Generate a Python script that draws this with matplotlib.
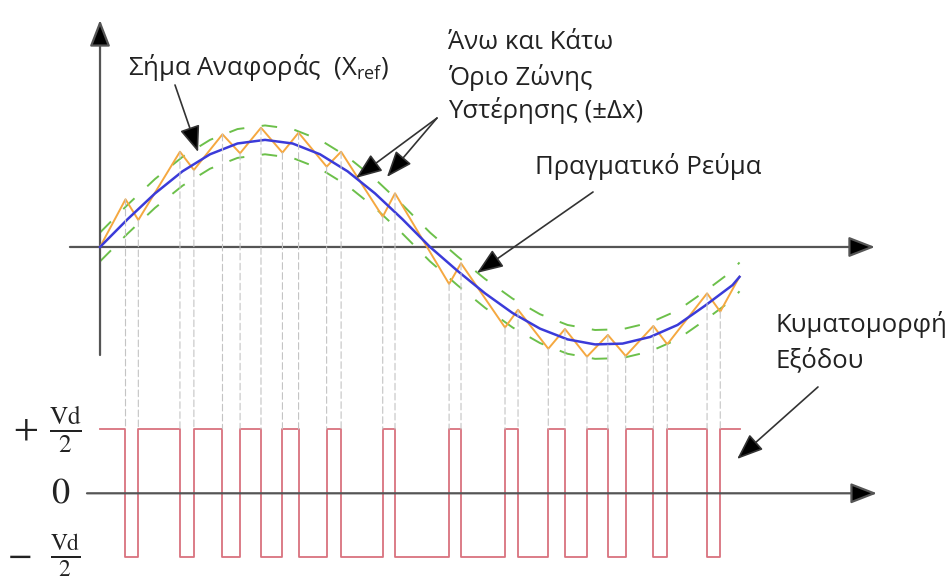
import numpy as np
import matplotlib
matplotlib.use("Agg")
import matplotlib.pyplot as plt
from matplotlib.patches import ConnectionPatch

plt.rcParams['font.family'] = ['Open Sans', 'DejaVu Sans']
plt.rcParams['mathtext.fontset'] = 'custom'
plt.rcParams['mathtext.rm'] = 'Open Sans'

# --- data (time in electrical degrees, current in p.u., output in Vd/2 units) ---
t_ref = [0, 15, 30, 45, 60, 75, 90, 105, 120, 135, 150, 165, 180,
         195, 210, 225, 240, 255, 270, 285, 300, 315, 330, 345, 348.8]
i_ref = [0, 0.269, 0.52, 0.735, 0.90, 1.005, 1.04, 1.005, 0.90, 0.735, 0.52, 0.269, 0,
         -0.232, -0.450, -0.641, -0.793, -0.897, -0.946, -0.938, -0.874, -0.757,
         -0.57, -0.37, -0.29]
band = 0.14  # hysteresis half-width (+/- dx)

# switching instants and the actual current at each of them
t_sw = [13.9, 20.9, 43.6, 51.2, 66.8, 76.4, 87.8, 99.5, 108.3, 123.6, 131.5, 154.2, 160.9,
        190.4, 196.9, 220.9, 228.0, 244.5, 253.6, 265.6, 277.0, 286.7, 301.8, 309.4,
        331.1, 338.3]
i_sw = [0.463, 0.262, 0.925, 0.748, 1.094, 0.910, 1.158, 0.916, 1.110, 0.780, 0.925, 0.294,
        0.521, -0.359, -0.158, -0.782, -0.609, -0.988, -0.796, -1.065, -0.854, -1.058,
        -0.767, -0.945, -0.450, -0.628]
t_start, t_end = 0.0, 348.8
i_start, i_end = 0.0, -0.288
v_start = 1  # output starts at +Vd/2

# --- figure ---
fig = plt.figure(figsize=(9.52, 5.78), dpi=100)
ax_top = fig.add_axes([0, 0.3426, 1, 0.6574])
ax_bot = fig.add_axes([0, 0, 1, 0.3426])
for ax in (ax_top, ax_bot):
    ax.set_xlim(-54.55, 464.7)
    ax.axis('off')
ax_top.set_ylim(-1.2913, 2.3981)
ax_bot.set_ylim(-1.3193, 1.7648)

axis_col = '#555555'
axis_arrow = dict(arrowstyle='-|>,head_length=0.9,head_width=0.35', color=axis_col,
                  fc='black', lw=1.6, mutation_scale=18, shrinkA=0, shrinkB=0)

# axes of the current plot
ax_top.annotate('', xy=(422.7, 0), xytext=(-16.4, 0), arrowprops=axis_arrow)
ax_top.annotate('', xy=(0, 2.204), xytext=(0, -1.049), arrowprops=axis_arrow)
# axis of the output plot
ax_bot.annotate('', xy=(423.8, 0), xytext=(-7.1, 0), arrowprops=axis_arrow,
                zorder=5)

# hysteresis band
t_ref = np.array(t_ref)
i_ref = np.array(i_ref)
for sign in (1, -1):
    ax_top.plot(t_ref, i_ref + sign * band, color='#6cc04a', lw=1.4,
                dashes=(8, 9), zorder=2)

# reference and actual current
ax_top.plot(t_ref, i_ref, color='#3b3bd9', lw=1.8, zorder=4)
t_act = [t_start] + t_sw + [t_end]
i_act = [i_start] + i_sw + [i_end]
ax_top.plot(t_act, i_act, color='#f5a840', lw=1.4, zorder=3)

# output voltage (square wave)
edges = [t_start] + t_sw + [t_end]
levels = [v_start * (-1) ** k for k in range(len(edges) - 1)]
ax_bot.step(edges, levels + [levels[-1]], where='post', color='#d9727e', lw=1.3, zorder=3)

# dashed guides from switching points to the output waveform
for t, i in zip(t_sw, i_sw):
    con = ConnectionPatch(xyA=(t, i), coordsA=ax_top.transData,
                          xyB=(t, 1.0), coordsB=ax_bot.transData,
                          color='#c4c4c4', lw=0.8, linestyle=(0, (6, 3)), zorder=1)
    fig.add_artist(con)

# labels
txt_col = '#222222'
fs = 18.5
ptr = dict(arrowstyle='-|>,head_length=0.9,head_width=0.35', color='#333333',
           fc='black', lw=1.2, mutation_scale=18, shrinkA=0, shrinkB=0)

ax_top.text(15.3, 1.738, r'Σήμα Αναφοράς  ($\mathrm{X}_{\mathrm{ref}}$)', fontsize=fs,
            color=txt_col, va='center', ha='left')
ax_top.annotate('', xy=(53.5, 0.922), xytext=(40.9, 1.573), arrowprops=ptr)

band_lines = ['Άνω και Κάτω', 'Όριο Ζώνης', 'Υστέρησης (±Δx)']
band_y = [1.981, 1.641, 1.330]
for s, y in zip(band_lines, band_y):
    ax_top.text(189.8, y, s, fontsize=fs, color=txt_col, va='center', ha='left')
ax_top.annotate('', xy=(139.6, 0.670), xytext=(183.8, 1.252), arrowprops=ptr)
ax_top.annotate('', xy=(156.5, 0.680), xytext=(183.8, 1.252), arrowprops=ptr)

ax_top.text(237.3, 0.777, 'Πραγματικό Ρεύμα', fontsize=fs, color=txt_col,
            va='center', ha='left')
ax_top.annotate('', xy=(205.6, -0.252), xytext=(268.9, 0.534), arrowprops=ptr)

ax_top.text(368.2, -0.757, 'Κυματομορφή', fontsize=fs, color=txt_col, va='center', ha='left')
ax_top.text(368.2, -1.097, 'Εξόδου', fontsize=fs, color=txt_col, va='center', ha='left')
ax_bot.annotate('', xy=(347.5, 0.534), xytext=(391.6, 1.656), arrowprops=ptr)

# output levels
lvl_kw = dict(fontsize=26, math_fontfamily='stix', ha='center', va='center',
              color=txt_col, clip_on=False)
ax_bot.text(-40.9, 1.0, r'$+$', **lvl_kw)
ax_bot.text(-19.1, 1.0, r'$\frac{\mathrm{Vd}}{2}$', **lvl_kw)
ax_bot.text(-21.3, 0.0, r'$\mathrm{0}$', **lvl_kw)
ax_bot.text(-44.2, -0.97, r'$-$', **lvl_kw)
lvl_kw['fontsize'] = 24
ax_bot.text(-19.1, -0.97, r'$\frac{\mathrm{Vd}}{2}$', **lvl_kw)

plt.savefig('out.png', dpi=100)
